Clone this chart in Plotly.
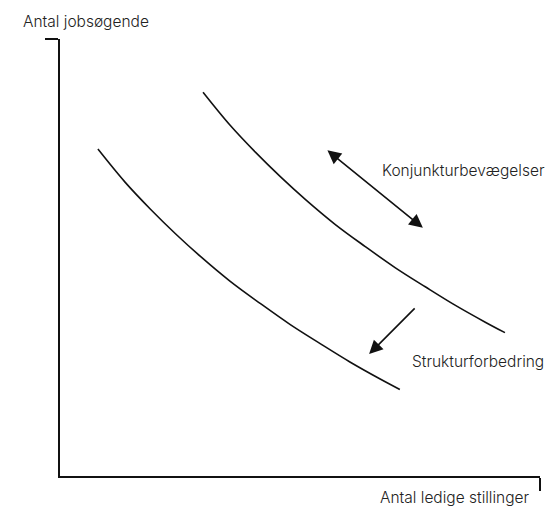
import plotly.graph_objects as go

# Schematic Beveridge curves (arbitrary units, axes run 0..10)
lower_x = [0.79, 1.35, 1.88, 2.40, 2.92, 3.54, 4.17, 4.79, 5.42, 6.04, 6.67, 7.08]
lower_y = [7.48, 6.73, 6.11, 5.55, 5.03, 4.46, 3.95, 3.47, 3.03, 2.61, 2.22, 1.98]

upper_x = [2.98, 3.54, 4.07, 4.59, 5.11, 5.73, 6.36, 6.98, 7.61, 8.23, 8.86, 9.27]
upper_y = [8.78, 8.03, 7.41, 6.85, 6.33, 5.76, 5.25, 4.77, 4.33, 3.91, 3.52, 3.28]

# arrows: (tail_x, tail_y, head_x, head_y)
cycle_arrow = (5.54, 7.48, 7.56, 5.68)
struct_arrow = (7.42, 3.87, 6.44, 2.79)

label_cycle = "Konjunkturbevægelser"
label_struct = "Strukturforbedring"
y_title = "Antal jobsøgende"
x_title = "Antal ledige stillinger"

INK = "#111111"
TEXT = "#222222"
FONT = "Inter, Roboto, sans-serif"
label_font = dict(size=15.5, color=TEXT, family=FONT, weight=300)

fig = go.Figure()
for xs, ys in [(lower_x, lower_y), (upper_x, upper_y)]:
    fig.add_trace(go.Scatter(
        x=xs, y=ys, mode="lines", line=dict(color=INK, width=1.6, shape="spline"),
        hoverinfo="skip", showlegend=False,
    ))

fig.add_annotation(
    x=cycle_arrow[2], y=cycle_arrow[3], ax=cycle_arrow[0], ay=cycle_arrow[1],
    xref="x", yref="y", axref="x", ayref="y", text="",
    showarrow=True, arrowhead=2, startarrowhead=2, arrowside="end+start",
    arrowsize=1.7, startarrowsize=1.7, arrowwidth=1.6, arrowcolor=INK,
)
fig.add_annotation(
    x=struct_arrow[2], y=struct_arrow[3], ax=struct_arrow[0], ay=struct_arrow[1],
    xref="x", yref="y", axref="x", ayref="y", text="",
    showarrow=True, arrowhead=2, arrowsize=1.7, arrowwidth=1.6, arrowcolor=INK,
)

fig.add_annotation(x=6.67, y=7.0, xref="x", yref="y", text=label_cycle, showarrow=False,
                   xanchor="left", yanchor="middle", font=label_font)
fig.add_annotation(x=7.29, y=2.63, xref="x", yref="y", text=label_struct, showarrow=False,
                   xanchor="left", yanchor="middle", font=label_font)
fig.add_annotation(x=-0.081, y=1.039, xref="paper", yref="paper", text=y_title, showarrow=False,
                   xanchor="left", yanchor="middle", font=label_font)
fig.add_annotation(x=0.983, y=-0.05, xref="paper", yref="paper", text=x_title, showarrow=False,
                   xanchor="right", yanchor="middle", font=label_font)

axis_style = dict(
    range=[0, 10], showgrid=False, zeroline=False, showline=True, linecolor=INK, linewidth=1.6,
    ticks="outside", tickvals=[10], ticklen=13, tickwidth=1.6, tickcolor=INK,
    showticklabels=False, fixedrange=True,
)
fig.update_xaxes(**axis_style)
fig.update_yaxes(**axis_style)

# the page body adds an 8px margin, so the figure is 8px smaller each way
fig.update_layout(
    width=547, height=500,
    margin=dict(l=52, r=15, t=31, b=32),
    plot_bgcolor="white", paper_bgcolor="white",
    font=dict(family=FONT, color=TEXT),
)

fig.write_html("out.html")
